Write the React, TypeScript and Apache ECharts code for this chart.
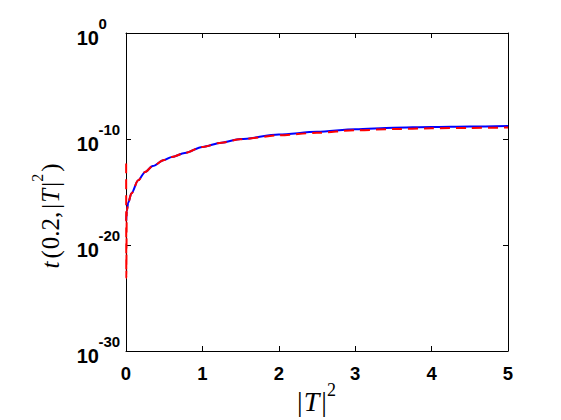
import React, { useEffect, useRef } from "react";
import * as echarts from "echarts";

// |T|^2 values and t(0.2,|T|^2) values
const blueX = [0.003, 0.01, 0.03, 0.07, 0.16, 0.25, 0.35, 0.5, 0.6, 0.77, 1.0, 1.25, 1.5, 2.0, 2.5, 3.0, 3.5, 4.0, 4.5, 5.0];
const blueY = [2.0e-18, 1.6e-17, 1.0e-16, 7.1e-16, 1.26e-14, 7.9e-14, 2.8e-13, 1.05e-12, 2.0e-12, 4.8e-12, 1.8e-11, 4.5e-11, 1.0e-10, 2.6e-10, 4.8e-10, 8.3e-10, 1.17e-9, 1.35e-9, 1.5e-9, 1.7e-9];

const redX = [0.002, 0.004, 0.01, 0.03, 0.07, 0.16, 0.25, 0.35, 0.5, 0.6, 0.77, 1.0, 1.25, 1.5, 2.0, 2.5, 3.0, 3.5, 4.0, 4.5, 5.0];
const redY = [5.0e-13, 7.9e-24, 1.6e-17, 1.0e-16, 7.1e-16, 1.26e-14, 7.9e-14, 2.8e-13, 1.05e-12, 2.0e-12, 4.8e-12, 1.8e-11, 4.5e-11, 9.5e-11, 2.2e-10, 3.8e-10, 6.6e-10, 8.7e-10, 1.02e-9, 1.12e-9, 1.2e-9];

const xTicks = [0, 1, 2, 3, 4, 5];
const yTickValues = [1, 1e-10, 1e-20, 1e-30];
const yTickExponents = ["0", "-10", "-20", "-30"];
const yMin = 1e-30;
const yMax = 1;

const tickFont = "Liberation Sans, Arial, sans-serif";
const mathFont = "Liberation Serif, Times New Roman, serif";

export default function App() {
  const ref = useRef<HTMLDivElement>(null);
  useEffect(() => {
    if (!ref.current) return;
    const chart = echarts.init(ref.current, null, { renderer: "svg" });
    const axisLine = { show: true, onZero: false, lineStyle: { color: "#000", width: 1 } };
    const axisTick = { show: true, inside: true, length: 5, lineStyle: { color: "#000" } };
    const mathRich = (fs: number, sup: number, comma: number) => ({
      i: { fontSize: fs, fontFamily: mathFont, color: "#000", lineHeight: 34, verticalAlign: "bottom" },
      c: { fontSize: fs, fontFamily: mathFont, color: "#000", lineHeight: 34, verticalAlign: "bottom", padding: [0, comma, 0, 0] },
      p: { fontSize: fs, fontFamily: mathFont, color: "#000", lineHeight: 34, verticalAlign: "bottom", padding: [0, 1, 0, 1] },
      it: { fontSize: fs, fontFamily: mathFont, fontStyle: "italic", color: "#000", lineHeight: 34, verticalAlign: "bottom", padding: [0, 2, 0, 1] },
      s: { fontSize: sup, fontFamily: mathFont, color: "#000", lineHeight: 34, verticalAlign: "top", padding: [0, 1, 0, 0] },
    });
    chart.setOption({
      animation: false,
      backgroundColor: "#fff",
      grid: { left: 126, top: 33, right: 53, bottom: 69, containLabel: false, outerBoundsMode: "none" },
      xAxis: [
        {
          type: "value",
          min: xTicks[0],
          max: xTicks[xTicks.length - 1],
          interval: 1,
          position: "bottom",
          axisLine,
          axisTick,
          axisLabel: { fontSize: 18.5, fontWeight: "bold", fontFamily: tickFont, color: "#000", margin: 13, showMinLabel: true, showMaxLabel: true },
          splitLine: { show: false },
        },
        {
          type: "value",
          min: xTicks[0],
          max: xTicks[xTicks.length - 1],
          interval: 1,
          position: "top",
          axisLine,
          axisTick,
          axisLabel: { show: false },
          splitLine: { show: false },
        },
      ],
      yAxis: [
        {
          type: "log",
          logBase: 10,
          min: yMin,
          max: yMax,
          interval: 10,
          position: "left",
          axisLine,
          axisTick,
          minorTick: { show: false },
          axisLabel: { show: false },
          splitLine: { show: false },
        },
        {
          type: "log",
          logBase: 10,
          min: yMin,
          max: yMax,
          interval: 10,
          position: "right",
          axisLine,
          axisTick,
          minorTick: { show: false },
          axisLabel: { show: false },
          splitLine: { show: false },
        },
      ],
      series: [
        {
          type: "line",
          xAxisIndex: 0,
          yAxisIndex: 0,
          data: blueX.map((x, i) => [x, blueY[i]]),
          showSymbol: false,
          smooth: 0.3,
          smoothMonotone: "x",
          lineStyle: { color: "#0000ff", width: 2 },
          z: 2,
        },
        {
          type: "line",
          xAxisIndex: 0,
          yAxisIndex: 0,
          data: redX.map((x, i) => [x, redY[i]]),
          showSymbol: false,
          smooth: 0.3,
          smoothMonotone: "x",
          lineStyle: { color: "#ff0000", width: 2, type: [10, 6] },
          z: 3,
        },
      ],
    });

    // y tick labels (10 with superscript exponent), positioned through the axis scale
    const leftX = chart.convertToPixel({ xAxisIndex: 0 }, xTicks[0]) as number;
    const tickLabels: any[] = [];
    yTickValues.forEach((v, i) => {
      const py = chart.convertToPixel({ yAxisIndex: 0 }, v) as number;
      tickLabels.push({
        type: "text",
        x: leftX - 27,
        y: py + 5,
        style: { text: "10", fontSize: 20, fontWeight: "bold", fontFamily: tickFont, fill: "#000", align: "right", verticalAlign: "middle" },
      });
      tickLabels.push({
        type: "text",
        x: leftX - 27.5,
        y: py - 10,
        style: { text: yTickExponents[i], fontSize: 15, fontWeight: "bold", fontFamily: tickFont, fill: "#000", align: "left", verticalAlign: "middle" },
      });
    });

    chart.setOption({
      graphic: [
        ...tickLabels,
        {
          type: "text",
          x: 317,
          y: 398,
          style: {
            text: "{i||}{it|T}{i||}{s|2}",
            align: "center",
            verticalAlign: "middle",
            rich: mathRich(28, 18, 0),
          },
        },
        {
          type: "text",
          x: 46,
          y: 216,
          rotation: Math.PI / 2,
          style: {
            text: "{it|t}{p|(}{i|0.2}{c|,}{i||}{it|T}{i||}{s|2}{p|)}",
            align: "center",
            verticalAlign: "middle",
            rich: mathRich(25, 16, 3),
          },
        },
      ],
    });
    return () => chart.dispose();
  }, []);
  return <div ref={ref} style={{ position: "fixed", left: 0, top: 0, width: 561, height: 420 }} />;
}
